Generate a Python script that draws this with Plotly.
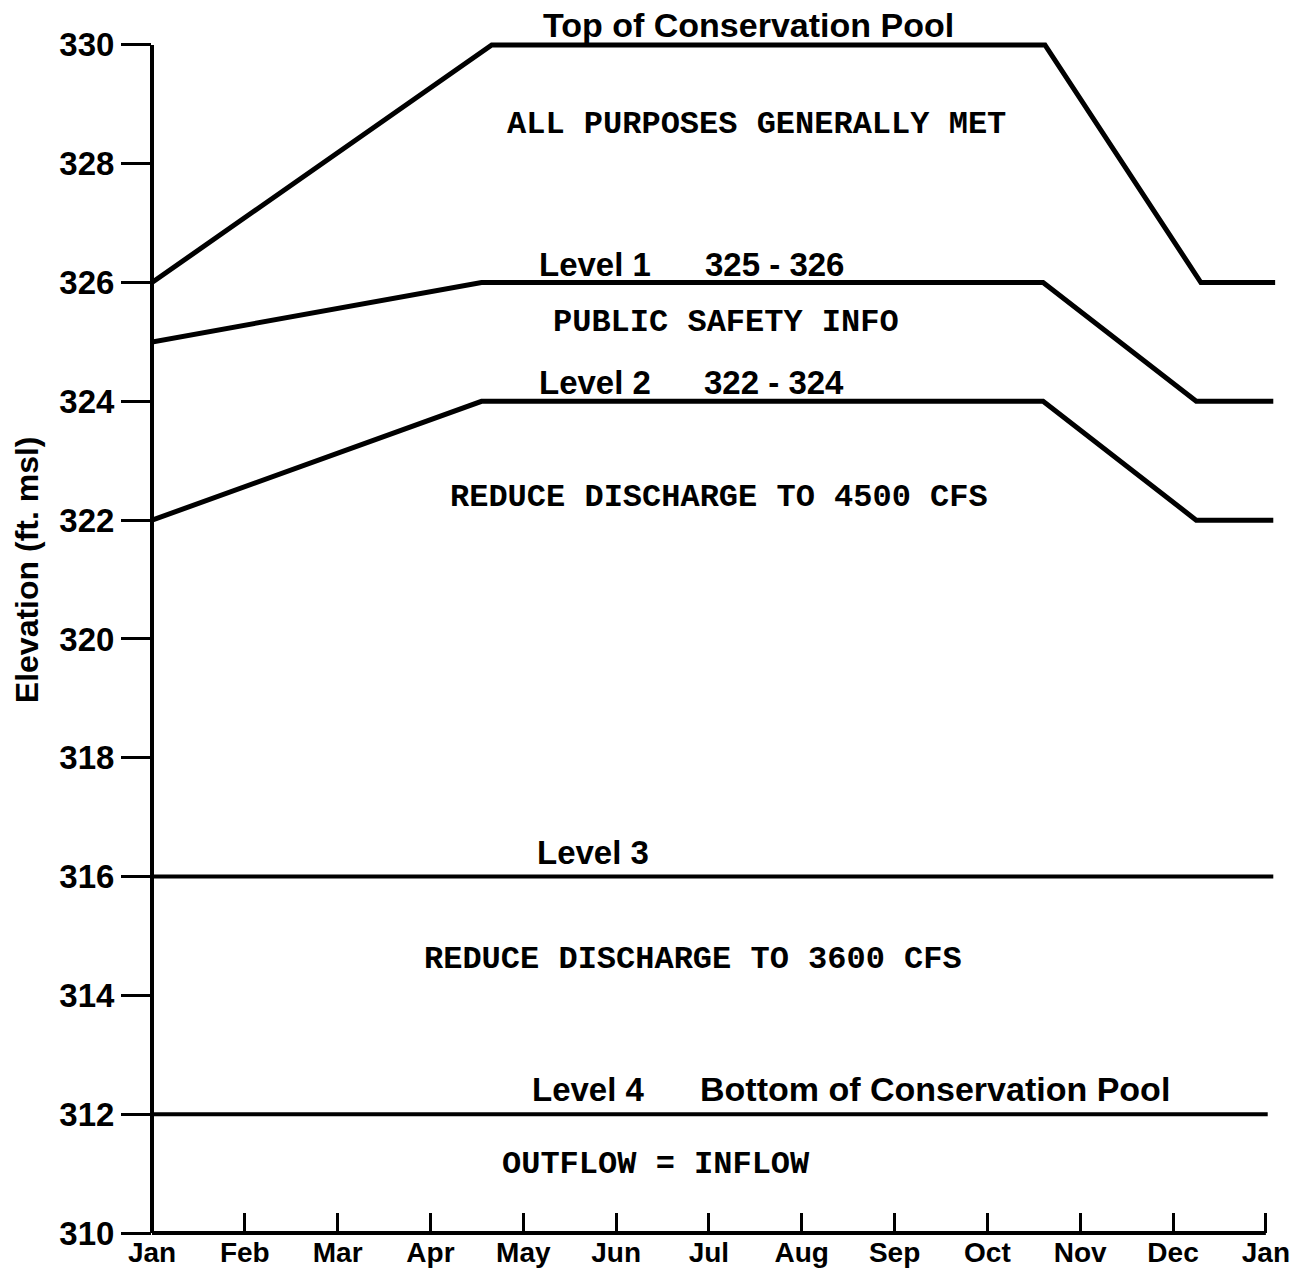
import plotly.graph_objects as go

# Month positions (0 = Jan, 12 = following Jan) and labels
month_pos = list(range(13))
month_labels = ["Jan", "Feb", "Mar", "Apr", "May", "Jun", "Jul",
                "Aug", "Sep", "Oct", "Nov", "Dec", "Jan"]

# Elevation tick values (ft. msl)
elev_ticks = [310, 312, 314, 316, 318, 320, 322, 324, 326, 328, 330]

# Guide curves: month position vs elevation
top_pool_x = [0, 3.66, 9.62, 11.3, 12.1]
top_pool_y = [326, 330, 330, 326, 326]

level1_x = [0, 3.55, 9.6, 11.25, 12.08]
level1_y = [325, 326, 326, 324, 324]

level2_x = [0, 3.55, 9.6, 11.25, 12.08]
level2_y = [322, 324, 324, 322, 322]

level3_x = [0, 12.08]
level3_y = [316, 316]

level4_x = [0, 12.02]
level4_y = [312, 312]

SANS = "Liberation Sans"
MONO = "Liberation Mono"

Y_MIN, Y_MAX = 310, 330.15

fig = go.Figure()

for xs, ys, w in [(top_pool_x, top_pool_y, 5), (level1_x, level1_y, 5),
                  (level2_x, level2_y, 5), (level3_x, level3_y, 4),
                  (level4_x, level4_y, 4)]:
    fig.add_trace(go.Scatter(x=xs, y=ys, mode="lines",
                             line=dict(color="black", width=w),
                             showlegend=False, hoverinfo="skip"))

# Axis lines (paper coordinates so they are not clipped at the plot edge)
y_top_paper = (330 - Y_MIN) / (Y_MAX - Y_MIN)
fig.add_shape(type="line", x0=0, x1=0, y0=0, y1=y_top_paper,
              xref="paper", yref="paper", line=dict(color="black", width=4))
fig.add_shape(type="line", x0=0, x1=12 / 12.12, y0=0, y1=0,
              xref="paper", yref="paper", line=dict(color="black", width=4))

def bold_label(text, x, y, xanchor="left", size=33, yref="y"):
    fig.add_annotation(x=x, y=y, xref="x", yref=yref, text=text,
                       showarrow=False, xanchor=xanchor, yanchor="middle",
                       font=dict(family=SANS, size=size, color="black", weight="bold"))

def mono_label(text, x, y, xanchor="left", size=32):
    fig.add_annotation(x=x, y=y, xref="x", yref="y", text=text,
                       showarrow=False, xanchor=xanchor, yanchor="middle",
                       font=dict(family=MONO, size=size, color="black", weight="bold"))

bold_label("Top of Conservation Pool", 4.19, 1.009, yref="paper", size=34)
mono_label("ALL PURPOSES GENERALLY MET", 3.80, 328.66)
bold_label("Level 1", 4.15, 326.31)
bold_label("325 - 326", 7.48, 326.31, xanchor="right")
mono_label("PUBLIC SAFETY INFO", 4.30, 325.32)
bold_label("Level 2", 4.15, 324.31)
bold_label("322 - 324", 7.48, 324.31, xanchor="right")
mono_label("REDUCE DISCHARGE TO 4500 CFS", 3.19, 322.38)
bold_label("Level 3", 4.13, 316.41)
mono_label("REDUCE DISCHARGE TO 3600 CFS", 2.91, 314.61)
bold_label("Level 4", 4.07, 312.42)
bold_label("Bottom of Conservation Pool", 10.99, 312.42, xanchor="right", size=34)
mono_label("OUTFLOW = INFLOW", 3.75, 311.16)

# Vertical axis title
fig.add_annotation(x=-0.111, y=321.16, xref="paper", yref="y",
                   text="Elevation (ft. msl)", textangle=-90, showarrow=False,
                   xanchor="center", yanchor="middle",
                   font=dict(family=SANS, size=32, color="black", weight="bold"))

fig.update_xaxes(range=[0, 12.12], tickvals=month_pos, ticktext=month_labels,
                 ticks="inside", ticklen=20, tickwidth=3, tickcolor="black",
                 automargin=False,
                 showline=False, showgrid=False, zeroline=False,
                 tickfont=dict(family=SANS, size=28, color="black", weight="bold"))
fig.update_yaxes(range=[Y_MIN, Y_MAX], tickvals=elev_ticks,
                 ticks="outside", ticklen=30, tickwidth=3, tickcolor="black",
                 automargin=False,
                 showline=False, showgrid=False, zeroline=False,
                 tickfont=dict(family=SANS, size=33, color="black", weight="bold"))

fig.update_layout(width=1299, height=1273,
                  margin=dict(l=152, r=22, t=36, b=40),
                  plot_bgcolor="white", paper_bgcolor="white")

fig.write_html("out.html")
